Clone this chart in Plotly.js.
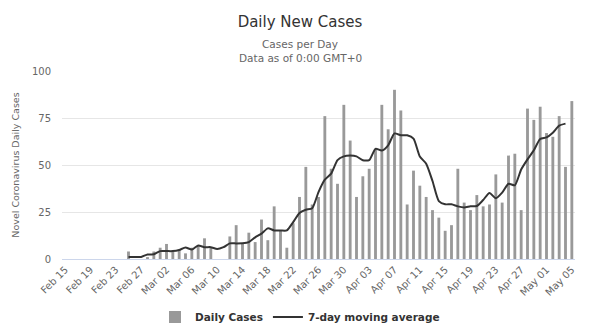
<!DOCTYPE html>
<html>
<head>
<meta charset="utf-8">
<script src="https://cdn.plot.ly/plotly-3.0.1.min.js"></script>
<style>html,body{margin:0;padding:0;background:#fff;}#chart{width:600px;height:336px;}</style>
</head>
<body>
<div id="chart"></div>
<script>
var dates = [
"2020-02-15","2020-02-16","2020-02-17","2020-02-18","2020-02-19","2020-02-20","2020-02-21","2020-02-22","2020-02-23","2020-02-24",
"2020-02-25","2020-02-26","2020-02-27","2020-02-28","2020-02-29","2020-03-01","2020-03-02","2020-03-03","2020-03-04","2020-03-05",
"2020-03-06","2020-03-07","2020-03-08","2020-03-09","2020-03-10","2020-03-11","2020-03-12","2020-03-13","2020-03-14","2020-03-15",
"2020-03-16","2020-03-17","2020-03-18","2020-03-19","2020-03-20","2020-03-21","2020-03-22","2020-03-23","2020-03-24","2020-03-25",
"2020-03-26","2020-03-27","2020-03-28","2020-03-29","2020-03-30","2020-03-31","2020-04-01","2020-04-02","2020-04-03","2020-04-04",
"2020-04-05","2020-04-06","2020-04-07","2020-04-08","2020-04-09","2020-04-10","2020-04-11","2020-04-12","2020-04-13","2020-04-14",
"2020-04-15","2020-04-16","2020-04-17","2020-04-18","2020-04-19","2020-04-20","2020-04-21","2020-04-22","2020-04-23","2020-04-24",
"2020-04-25","2020-04-26","2020-04-27","2020-04-28","2020-04-29","2020-04-30","2020-05-01","2020-05-02","2020-05-03","2020-05-04",
"2020-05-05"];

var dailyCases = [
null,null,null,null,null,null,null,null,null,null,
4,0,0,1,4,6,8,4,5,3,
6,7,11,6,0,0,12,18,8,14,
9,21,10,28,15,6,19,33,49,29,
33,76,48,40,82,63,33,44,48,58,
82,69,90,79,29,47,39,33,26,22,
15,18,48,30,26,34,28,29,45,30,
55,56,26,80,74,81,67,65,76,49,
84];

var movingAvg = [
null,null,null,null,null,null,null,null,null,null,
1.1,1.1,1.1,2.4,2.5,4.2,4.2,4.2,4.8,6.1,
5.0,7.2,6.3,6.3,5.3,6.3,8.3,8.3,8.4,9.0,
11.5,13.5,16.3,15.2,15.2,15.2,19.6,24.5,26.2,27.0,
35.6,42.2,45.4,52.6,54.6,55.0,54.6,52.5,52.6,58.6,
57.7,60.5,66.8,65.8,65.8,64.0,54.5,50.7,41.5,30.8,
29.1,29.1,28.0,27.4,28.0,28.2,31.4,35.1,32.3,35.3,
40.0,39.2,47.6,53.0,57.8,63.8,64.7,67.2,70.9,72.0,
null];

var titleText = "Daily New Cases";
var subtitleLines = ["Cases per Day", "Data as of 0:00 GMT+0"];
var yTitle = "Novel Coronavirus Daily Cases";
var seriesNames = ["Daily Cases", "7-day moving average"];

var FONT = "'DejaVu Sans', 'Open Sans', sans-serif";

var traces = [
  {
    type: "bar",
    x: dates,
    y: dailyCases,
    name: seriesNames[0],
    marker: {color: "#999999"},
    hoverinfo: "x+y"
  },
  {
    type: "scatter",
    mode: "lines",
    x: dates,
    y: movingAvg,
    name: seriesNames[1],
    line: {color: "#333333", width: 2, shape: "spline", smoothing: 0.6},
    connectgaps: false
  }
];

var subX = (300 - 62) / 513;

var layout = {
  width: 600,
  height: 336,
  margin: {l: 62, r: 25, t: 71, b: 77},
  paper_bgcolor: "#ffffff",
  plot_bgcolor: "#ffffff",
  font: {family: FONT, color: "#666666", size: 10},
  bargap: 0.55,
  showlegend: true,
  title: {
    text: titleText,
    font: {family: FONT, size: 15, color: "#333333"},
    x: 0.5, xanchor: "center",
    y: 1 - 22/336, yref: "container", yanchor: "middle"
  },
  annotations: [
    {text: subtitleLines[0], xref: "paper", yref: "paper", x: subX, y: (259 - 44) / 188,
     xanchor: "center", yanchor: "middle", showarrow: false,
     font: {family: FONT, size: 10.5, color: "#666666"}},
    {text: subtitleLines[1], xref: "paper", yref: "paper", x: subX, y: (259 - 58) / 188,
     xanchor: "center", yanchor: "middle", showarrow: false,
     font: {family: FONT, size: 10.5, color: "#666666"}}
  ],
  xaxis: {
    type: "date",
    range: ["2020-02-14 12:00", "2020-05-05 12:00"],
    tick0: "2020-02-15",
    dtick: 4 * 86400000,
    tickformat: "%b %d",
    tickangle: -45,
    tickfont: {family: FONT, size: 10, color: "#666666"},
    showgrid: false,
    showline: true,
    linecolor: "#ccd6eb",
    linewidth: 1,
    ticks: "",
    zeroline: false,
    fixedrange: true
  },
  yaxis: {
    range: [0, 100],
    dtick: 25,
    tick0: 0,
    showgrid: true,
    gridcolor: "#e6e6e6",
    gridwidth: 1,
    zeroline: false,
    showline: false,
    ticks: "",
    ticklabelstandoff: 10,
    tickfont: {family: FONT, size: 10, color: "#666666"},
    title: {text: yTitle, font: {family: FONT, size: 9.5, color: "#666666"}, standoff: 10},
    fixedrange: true
  },
  legend: {
    orientation: "h",
    xref: "container", yref: "container",
    x: 300/600, xanchor: "center",
    y: 1 - 317/336, yanchor: "middle",
    font: {family: FONT, size: 10.5, color: "#333333", weight: "bold"},
    itemwidth: 30,
    tracegroupgap: 0
  }
};

Plotly.newPlot("chart", traces, layout, {displayModeBar: false, staticPlot: true});
</script>
</body>
</html>
